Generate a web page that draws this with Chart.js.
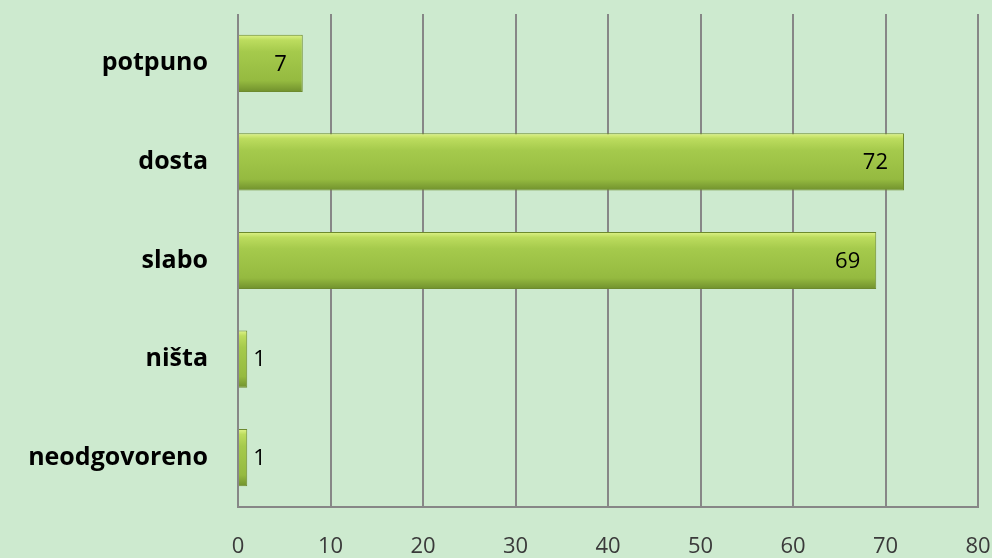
<!DOCTYPE html>
<html>
<head>
<meta charset="utf-8">
<script src="https://cdn.jsdelivr.net/npm/chart.js@4/dist/chart.umd.min.js"></script>
<style>
  html, body { margin: 0; padding: 0; background: #cdeacf; }
  #wrap { width: 992px; height: 558px; position: relative; }
</style>
</head>
<body>
<div id="wrap"><canvas id="chart"></canvas></div>
<script>
const categories = ['potpuno', 'dosta', 'slabo', 'ništa', 'neodgovoreno'];
const answers = [7, 72, 69, 1, 1];
const xTicks = [0, 10, 20, 30, 40, 50, 60, 70, 80];

function barFill(context) {
    const chart = context.chart;
    const y = chart.scales.y;
    if (!y || y.top === undefined) return '#9cc146';
    const mid = y.getPixelForValue(context.dataIndex);
    const g = chart.ctx.createLinearGradient(0, mid - 29, 0, mid + 29);
    g.addColorStop(0, '#e2f68e');
    g.addColorStop(0.1, '#bcdc5e');
    g.addColorStop(0.3, '#a5ca4c');
    g.addColorStop(0.8, '#95ba40');
    g.addColorStop(1, '#6f8f2c');
    return g;
}

// value labels: inside the end for long bars, just outside for short ones
const valueLabels = {
    id: 'valueLabels',
    afterDatasetsDraw(chart) {
        const ctx = chart.ctx;
        const meta = chart.getDatasetMeta(0);
        ctx.save();
        ctx.font = '22px "Open Sans"';
        ctx.fillStyle = '#000';
        ctx.textBaseline = 'middle';
        meta.data.forEach((bar, i) => {
            const v = answers[i];
            const w = bar.x - bar.base;
            if (w > 40) {
                ctx.textAlign = 'right';
                ctx.fillText(v, bar.x - 16, bar.y + 1);
            } else {
                ctx.textAlign = 'left';
                ctx.fillText(v, bar.x + 6, bar.y + 1);
            }
        });
        ctx.restore();
    }
};

new Chart(document.getElementById('chart'), {
    type: 'bar',
    data: {
        labels: categories,
        datasets: [{
            data: answers,
            backgroundColor: barFill,
            borderColor: '#6d8a2e',
            borderWidth: 1,
            barPercentage: 0.58,
            categoryPercentage: 1
        }]
    },
    options: {
        indexAxis: 'y',
        responsive: true,
        maintainAspectRatio: false,
        animation: false,
        layout: { padding: { top: 14, right: 14, left: 0, bottom: 0 } },
        plugins: { legend: { display: false }, tooltip: { enabled: false } },
        scales: {
            x: {
                min: 0, max: 80,
                afterBuildTicks: s => { s.ticks = xTicks.map(v => ({ value: v })); },
                afterFit: s => { s.height = 51; s.paddingLeft = 0; s.paddingRight = 0; },
                grid: { color: '#878787', lineWidth: 2, drawTicks: false },
                border: { color: '#878787', width: 2 },
                ticks: { color: '#3a3a3a', font: { family: 'Open Sans', size: 22 }, padding: 27 }
            },
            y: {
                afterFit: s => { s.width = 238; s.paddingTop = 0; s.paddingBottom = 0; },
                grid: { display: false, drawTicks: false },
                border: { display: false },
                ticks: { color: '#000', font: { family: 'Open Sans', size: 25, weight: 'bold' }, padding: 30 }
            }
        }
    },
    plugins: [valueLabels]
});
</script>
</body>
</html>
